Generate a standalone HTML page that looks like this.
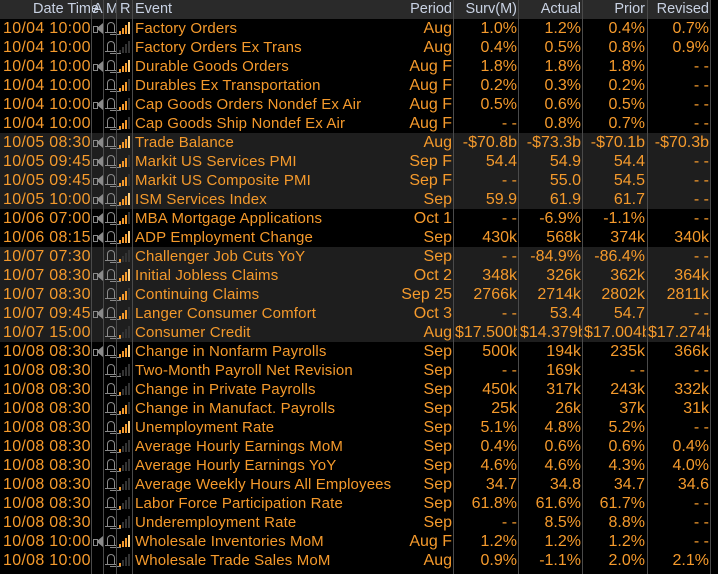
<!DOCTYPE html>
<html><head><meta charset="utf-8"><style>
body{margin:0;background:#000;width:718px;height:574px;overflow:hidden;font-family:"Liberation Sans",sans-serif;font-size:16px;}
#w{position:relative;width:718px;height:574px;}
.r{position:absolute;left:0;width:710px;height:19px;line-height:19px;color:#f59a2c;white-space:nowrap;}
.h{top:0;height:19px;background:#2a2a2a;color:#c9d2e3;font-size:14px;}
.h span{font-size:14.5px;letter-spacing:0}
.s{background:#1e1e1e;}
.r span{position:absolute;top:0;}
.d{left:3px;letter-spacing:0.3px}.e{left:135px;font-size:15px;letter-spacing:0.15px}
.p{right:258px}.sv{right:193px}.a{right:129px}.pr{right:65px}.rv{right:1px}
.c{overflow:hidden;text-align:left}
.v{position:absolute;top:0;width:1px;height:574px;background:#4a4a4a;}
.sp{left:93px;width:10px;height:19px}
.sp:before{content:"";position:absolute;left:0;top:7px;width:3px;height:5px;border:1px solid #8a8a8a;}
.sp:after{content:"";position:absolute;left:4px;top:4px;border-right:6px solid #8a8a8a;border-top:5px solid transparent;border-bottom:5px solid transparent;width:0;height:1px}
.bl{left:106px;width:9px;height:19px}
.bl:before{content:"";position:absolute;left:1px;top:3px;width:6px;height:9px;border:1px solid #8a8a8a;border-bottom:none;border-radius:4px 4px 0 0;}
.bl:after{content:"";position:absolute;left:-1px;top:13px;width:11px;height:1px;background:#8a8a8a;box-shadow:5px 2px 0 -0px #8a8a8a;}
.b{left:119px;width:13px;height:19px}
.b i{position:absolute;bottom:4px;width:2px;background:#333}
.b i:nth-child(1){left:0;height:3px}.b i:nth-child(2){left:3px;height:6px}.b i:nth-child(3){left:6px;height:9px}.b i:nth-child(4){left:9px;height:12px}
.b i.o{background:#f59a2c}.b i.y{background:#ffcf80}
</style></head><body><div id="w">
<div class="r h"><span style="left:33px">Date Time</span><span style="left:93px">A</span><span style="left:106px">M</span><span style="left:120px">R</span><span style="left:135px">Event</span><span class="p">Period</span><span class="sv">Surv(M)</span><span class="a">Actual</span><span class="pr">Prior</span><span class="rv">Revised</span></div>

<div class="r" style="top:19px"><span class="d">10/04 10:00</span><span class="sp"></span><span class="bl"></span><span class="b"><i class="o"></i><i class="o"></i><i class="o"></i><i class="y"></i></span><span class="e">Factory Orders</span><span class="p">Aug</span><span class="sv">1.0%</span><span class="a">1.2%</span><span class="pr">0.4%</span><span class="rv">0.7%</span></div>
<div class="r" style="top:38px"><span class="d">10/04 10:00</span><span class="bl"></span><span class="b"><i></i><i></i><i></i><i></i></span><span class="e">Factory Orders Ex Trans</span><span class="p">Aug</span><span class="sv">0.4%</span><span class="a">0.5%</span><span class="pr">0.8%</span><span class="rv">0.9%</span></div>
<div class="r" style="top:57px"><span class="d">10/04 10:00</span><span class="sp"></span><span class="bl"></span><span class="b"><i class="o"></i><i class="o"></i><i class="o"></i><i class="y"></i></span><span class="e">Durable Goods Orders</span><span class="p">Aug F</span><span class="sv">1.8%</span><span class="a">1.8%</span><span class="pr">1.8%</span><span class="rv">- -</span></div>
<div class="r" style="top:76px"><span class="d">10/04 10:00</span><span class="bl"></span><span class="b"><i class="o"></i><i class="o"></i><i class="o"></i><i></i></span><span class="e">Durables Ex Transportation</span><span class="p">Aug F</span><span class="sv">0.2%</span><span class="a">0.3%</span><span class="pr">0.2%</span><span class="rv">- -</span></div>
<div class="r" style="top:95px"><span class="d">10/04 10:00</span><span class="sp"></span><span class="bl"></span><span class="b"><i class="o"></i><i class="o"></i><i class="o"></i><i></i></span><span class="e">Cap Goods Orders Nondef Ex Air</span><span class="p">Aug F</span><span class="sv">0.5%</span><span class="a">0.6%</span><span class="pr">0.5%</span><span class="rv">- -</span></div>
<div class="r" style="top:114px"><span class="d">10/04 10:00</span><span class="bl"></span><span class="b"><i class="o"></i><i class="o"></i><i class="o"></i><i></i></span><span class="e">Cap Goods Ship Nondef Ex Air</span><span class="p">Aug F</span><span class="sv">- -</span><span class="a">0.8%</span><span class="pr">0.7%</span><span class="rv">- -</span></div>
<div class="r s" style="top:133px"><span class="d">10/05 08:30</span><span class="sp"></span><span class="bl"></span><span class="b"><i class="o"></i><i class="o"></i><i class="o"></i><i class="y"></i></span><span class="e">Trade Balance</span><span class="p">Aug</span><span class="sv">-$70.8b</span><span class="a">-$73.3b</span><span class="pr">-$70.1b</span><span class="rv">-$70.3b</span></div>
<div class="r s" style="top:152px"><span class="d">10/05 09:45</span><span class="sp"></span><span class="bl"></span><span class="b"><i class="o"></i><i class="o"></i><i class="o"></i><i></i></span><span class="e">Markit US Services PMI</span><span class="p">Sep F</span><span class="sv">54.4</span><span class="a">54.9</span><span class="pr">54.4</span><span class="rv">- -</span></div>
<div class="r s" style="top:171px"><span class="d">10/05 09:45</span><span class="sp"></span><span class="bl"></span><span class="b"><i class="o"></i><i class="o"></i><i class="o"></i><i></i></span><span class="e">Markit US Composite PMI</span><span class="p">Sep F</span><span class="sv">- -</span><span class="a">55.0</span><span class="pr">54.5</span><span class="rv">- -</span></div>
<div class="r s" style="top:190px"><span class="d">10/05 10:00</span><span class="sp"></span><span class="bl"></span><span class="b"><i class="o"></i><i class="o"></i><i class="o"></i><i class="y"></i></span><span class="e">ISM Services Index</span><span class="p">Sep</span><span class="sv">59.9</span><span class="a">61.9</span><span class="pr">61.7</span><span class="rv">- -</span></div>
<div class="r" style="top:209px"><span class="d">10/06 07:00</span><span class="sp"></span><span class="bl"></span><span class="b"><i class="o"></i><i class="o"></i><i class="o"></i><i></i></span><span class="e">MBA Mortgage Applications</span><span class="p">Oct 1</span><span class="sv">- -</span><span class="a">-6.9%</span><span class="pr">-1.1%</span><span class="rv">- -</span></div>
<div class="r" style="top:228px"><span class="d">10/06 08:15</span><span class="sp"></span><span class="bl"></span><span class="b"><i class="o"></i><i class="o"></i><i class="o"></i><i class="y"></i></span><span class="e">ADP Employment Change</span><span class="p">Sep</span><span class="sv">430k</span><span class="a">568k</span><span class="pr">374k</span><span class="rv">340k</span></div>
<div class="r s" style="top:247px"><span class="d">10/07 07:30</span><span class="bl"></span><span class="b"><i class="o"></i><i></i><i></i><i></i></span><span class="e">Challenger Job Cuts YoY</span><span class="p">Sep</span><span class="sv">- -</span><span class="a">-84.9%</span><span class="pr">-86.4%</span><span class="rv">- -</span></div>
<div class="r s" style="top:266px"><span class="d">10/07 08:30</span><span class="sp"></span><span class="bl"></span><span class="b"><i class="o"></i><i class="o"></i><i class="o"></i><i class="y"></i></span><span class="e">Initial Jobless Claims</span><span class="p">Oct 2</span><span class="sv">348k</span><span class="a">326k</span><span class="pr">362k</span><span class="rv">364k</span></div>
<div class="r s" style="top:285px"><span class="d">10/07 08:30</span><span class="bl"></span><span class="b"><i class="o"></i><i class="o"></i><i class="o"></i><i></i></span><span class="e">Continuing Claims</span><span class="p">Sep 25</span><span class="sv">2766k</span><span class="a">2714k</span><span class="pr">2802k</span><span class="rv">2811k</span></div>
<div class="r s" style="top:304px"><span class="d">10/07 09:45</span><span class="sp"></span><span class="bl"></span><span class="b"><i class="o"></i><i class="o"></i><i class="o"></i><i></i></span><span class="e">Langer Consumer Comfort</span><span class="p">Oct 3</span><span class="sv">- -</span><span class="a">53.4</span><span class="pr">54.7</span><span class="rv">- -</span></div>
<div class="r s" style="top:323px"><span class="d">10/07 15:00</span><span class="bl"></span><span class="b"><i class="o"></i><i></i><i></i><i></i></span><span class="e">Consumer Credit</span><span class="p">Aug</span><span class="c" style="left:455px;width:62px">$17.500b</span><span class="c" style="left:520px;width:62px">$14.379b</span><span class="c" style="left:584px;width:62px">$17.004b</span><span class="c" style="left:648px;width:62px">$17.274b</span></div>
<div class="r" style="top:342px"><span class="d">10/08 08:30</span><span class="sp"></span><span class="bl"></span><span class="b"><i class="o"></i><i class="o"></i><i class="o"></i><i class="y"></i></span><span class="e">Change in Nonfarm Payrolls</span><span class="p">Sep</span><span class="sv">500k</span><span class="a">194k</span><span class="pr">235k</span><span class="rv">366k</span></div>
<div class="r" style="top:361px"><span class="d">10/08 08:30</span><span class="bl"></span><span class="b"><i></i><i></i><i></i><i></i></span><span class="e">Two-Month Payroll Net Revision</span><span class="p">Sep</span><span class="sv">- -</span><span class="a">169k</span><span class="pr">- -</span><span class="rv">- -</span></div>
<div class="r" style="top:380px"><span class="d">10/08 08:30</span><span class="bl"></span><span class="b"><i class="o"></i><i></i><i></i><i></i></span><span class="e">Change in Private Payrolls</span><span class="p">Sep</span><span class="sv">450k</span><span class="a">317k</span><span class="pr">243k</span><span class="rv">332k</span></div>
<div class="r" style="top:399px"><span class="d">10/08 08:30</span><span class="bl"></span><span class="b"><i class="o"></i><i class="o"></i><i class="o"></i><i></i></span><span class="e">Change in Manufact. Payrolls</span><span class="p">Sep</span><span class="sv">25k</span><span class="a">26k</span><span class="pr">37k</span><span class="rv">31k</span></div>
<div class="r" style="top:418px"><span class="d">10/08 08:30</span><span class="bl"></span><span class="b"><i class="o"></i><i class="o"></i><i class="o"></i><i class="y"></i></span><span class="e">Unemployment Rate</span><span class="p">Sep</span><span class="sv">5.1%</span><span class="a">4.8%</span><span class="pr">5.2%</span><span class="rv">- -</span></div>
<div class="r" style="top:437px"><span class="d">10/08 08:30</span><span class="bl"></span><span class="b"><i class="o"></i><i></i><i></i><i></i></span><span class="e">Average Hourly Earnings MoM</span><span class="p">Sep</span><span class="sv">0.4%</span><span class="a">0.6%</span><span class="pr">0.6%</span><span class="rv">0.4%</span></div>
<div class="r" style="top:456px"><span class="d">10/08 08:30</span><span class="bl"></span><span class="b"><i class="o"></i><i></i><i></i><i></i></span><span class="e">Average Hourly Earnings YoY</span><span class="p">Sep</span><span class="sv">4.6%</span><span class="a">4.6%</span><span class="pr">4.3%</span><span class="rv">4.0%</span></div>
<div class="r" style="top:475px"><span class="d">10/08 08:30</span><span class="bl"></span><span class="b"><i class="o"></i><i></i><i></i><i></i></span><span class="e">Average Weekly Hours All Employees</span><span class="p">Sep</span><span class="sv">34.7</span><span class="a">34.8</span><span class="pr">34.7</span><span class="rv">34.6</span></div>
<div class="r" style="top:494px"><span class="d">10/08 08:30</span><span class="bl"></span><span class="b"><i class="o"></i><i></i><i></i><i></i></span><span class="e">Labor Force Participation Rate</span><span class="p">Sep</span><span class="sv">61.8%</span><span class="a">61.6%</span><span class="pr">61.7%</span><span class="rv">- -</span></div>
<div class="r" style="top:513px"><span class="d">10/08 08:30</span><span class="bl"></span><span class="b"><i class="o"></i><i></i><i></i><i></i></span><span class="e">Underemployment Rate</span><span class="p">Sep</span><span class="sv">- -</span><span class="a">8.5%</span><span class="pr">8.8%</span><span class="rv">- -</span></div>
<div class="r" style="top:532px"><span class="d">10/08 10:00</span><span class="sp"></span><span class="bl"></span><span class="b"><i class="o"></i><i class="o"></i><i class="o"></i><i class="y"></i></span><span class="e">Wholesale Inventories MoM</span><span class="p">Aug F</span><span class="sv">1.2%</span><span class="a">1.2%</span><span class="pr">1.2%</span><span class="rv">- -</span></div>
<div class="r" style="top:551px"><span class="d">10/08 10:00</span><span class="bl"></span><span class="b"><i class="o"></i><i></i><i></i><i></i></span><span class="e">Wholesale Trade Sales MoM</span><span class="p">Aug</span><span class="sv">0.9%</span><span class="a">-1.1%</span><span class="pr">2.0%</span><span class="rv">2.1%</span></div>

<div class="v" style="left:91px"></div><div class="v" style="left:103px"></div><div class="v" style="left:116px"></div><div class="v" style="left:132px"></div>
<div class="v" style="left:453px"></div><div class="v" style="left:518px"></div><div class="v" style="left:582px"></div><div class="v" style="left:647px"></div><div class="v" style="left:710px"></div>
</div></body></html>
